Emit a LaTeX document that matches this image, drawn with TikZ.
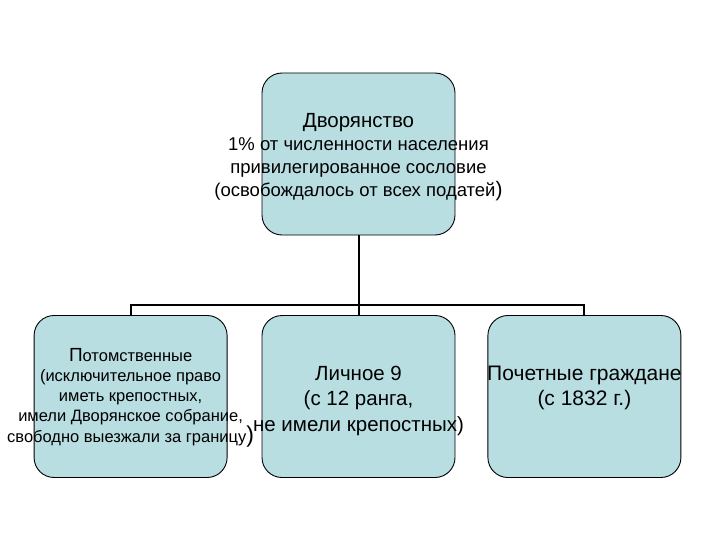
\documentclass[tikz,border=0pt]{standalone}
\usepackage{fontspec}
\setmainfont{Liberation Sans}
\usetikzlibrary{positioning}
\definecolor{boxfill}{RGB}{185,222,226}
\begin{document}
\begin{tikzpicture}[x=1pt, y=-1pt,
    box/.style={draw, line width=0.9pt, rounded corners=20pt, fill=boxfill, minimum width=193pt, minimum height=162pt, inner sep=0pt},
    bus/.style={line width=2pt}]
    \useasboundingbox (0,0) rectangle (720,540);
    \node[box] (top) at (358.5,154) {};
    \node[box] (mid) at (358.5,396.5) {};
    \node[box, left=34pt of mid] (left) {};
    \node[box, right=32pt of mid] (right) {};
    \coordinate (bus) at (358.5,305);
    \draw[bus] (top.south) -- (bus);
    \draw[bus] (bus) -- (mid.north);
    \draw[bus] (bus) -| (left.north);
    \draw[bus] (bus) -| (right.north);
    \node[align=center, font=\fontsize{18.5}{23}\selectfont, yshift=-3pt] (toptext) at (top.center)
        {{\fontsize{20.5}{24}\selectfont Дворянство}\\1\% от численности населения\\привилегированное сословие\\(освобождалось от всех податей{\fontsize{21}{23}\selectfont)}};
    \node[align=center, font=\fontsize{16.5}{20}\selectfont, yshift=-1pt] (lefttext) at (left.center)
        {{\fontsize{19}{20}\selectfont П}отомственные\\(исключительное право\\иметь крепостных,\\имели Дворянское собрание,\\свободно выезжали за границу{\fontsize{23}{20}\selectfont)}};
    \node[align=center, font=\fontsize{20.5}{25.5}\selectfont, yshift=-4pt] (midtext) at (mid.center)
        {Личное 9\\(с 12 ранга,\\не имели крепостных)};
    \node[align=center, font=\fontsize{21}{25}\selectfont, yshift=9pt] (righttext) at (right.center)
        {Почетные граждане\\(с 1832 г.)};
\end{tikzpicture}
\end{document}
